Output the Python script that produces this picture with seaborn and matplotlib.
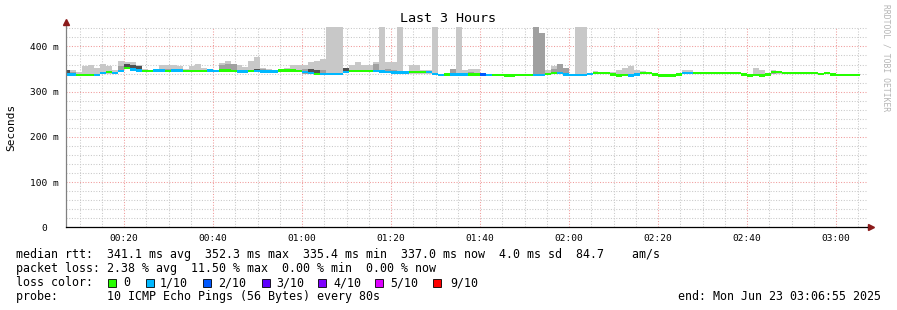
import numpy as np
import matplotlib
matplotlib.use("Agg")
import matplotlib.pyplot as plt
import seaborn as sns
from matplotlib.patches import Rectangle
from matplotlib.lines import Line2D

sns.set_theme(style="white")
plt.rcParams['font.family'] = ['DejaVu Sans Mono', 'DejaVu Sans']

# ---------------- data ----------------
start_min = 6.61          # first 80 s step, minutes after 00:00
step_min = 80 / 60
view_start, view_end = 6.917, 186.917   # 00:06:55 .. 03:06:55

median_ms = [338, 338, 337, 337, 337, 337, 341, 343, 341, 346,
             352.3, 349, 347, 346, 346, 347, 347, 346, 347, 347,
             346, 346, 346, 346, 347, 346, 347, 347, 346, 345,
             345, 346, 346, 345, 345, 345, 347, 347, 347, 346,
             343, 341, 339, 339, 339, 339, 339, 344, 346, 346,
             346, 346, 346, 345, 344, 342, 342, 342, 343, 343,
             343, 343, 339, 337, 337.5, 337.5, 337.5, 337.5, 338, 338,
             337.5, 337, 337, 337, 335.6, 335.6, 337, 337, 337, 337,
             337, 339, 341, 341, 337.5, 337, 337, 337, 339, 341,
             341, 341, 337.5, 335.6, 337, 335.6, 338, 341, 341, 337.5,
             336, 335.6, 335.6, 338, 341, 341, 341, 341, 341, 341,
             341, 341, 341, 341, 337.5, 335.4, 337, 335.6, 337.5, 343,
             343, 341, 341, 341, 341, 341, 341, 339, 341, 337.5,
             337, 337, 337, 337]

loss_tenths = [1, 1, 0, 0, 0, 1, 1, 0, 1, 1,
               0, 1, 1, 0, 0, 1, 1, 0, 1, 1,
               0, 0, 0, 0, 1, 1, 0, 0, 0, 1,
               1, 0, 1, 1, 1, 1, 0, 0, 0, 0,
               1, 1, 0, 1, 1, 1, 1, 1, 0, 0,
               0, 0, 1, 1, 1, 1, 1, 1, 0, 0,
               0, 1, 1, 1, 0, 1, 1, 1, 0, 0,
               2, 1, 0, 0, 0, 0, 0, 0, 0, 1,
               1, 0, 0, 1, 1, 1, 1, 1, 1, 0,
               0, 0, 0, 0, 0, 1, 1, 0, 0, 0,
               0, 0, 0, 0, 1, 1, 0, 0, 0, 0,
               0, 0, 0, 0, 0, 0, 0, 0, 0, 0,
               0, 0, 0, 0, 0, 0, 0, 0, 0, 0,
               0, 0, 0, 0]

smoke_max_ms = [347, 347, 343, 357, 360, 352, 361, 357, 347, 367,
                366, 366, 360, 351, 347, 347, 360, 360, 360, 357,
                350, 357, 362, 352, 350, 346, 363, 367, 360, 360,
                354, 367, 376, 352, 350, 345, 350, 352, 360, 360,
                360, 366, 367, 372, 450, 450, 450, 352, 358, 365,
                360, 358, 366, 450, 366, 366, 450, 344, 358, 358,
                347, 347, 450, 338, 338, 351, 450, 349, 351, 351,
                340, 338, 340, 337, 336, 336, 340, 337, 337, 450,
                429, 347, 357, 362, 352, 338, 450, 450, 340, 345,
                341, 341, 344, 348, 353, 357, 348, 345, 341, 338,
                338, 336, 336, 338, 347, 347, 341, 341, 341, 341,
                341, 341, 341, 341, 337.5, 335.4, 352, 349, 338, 349,
                346, 341, 341, 341, 341, 341, 341, 339, 341, 337.5,
                337, 337, 337, 337]

smoke_mid_idx = [1, 9, 17, 18, 19, 26, 27, 28, 33, 40, 43, 52, 54, 55,
                 65, 68, 79, 80, 82, 83, 84, 119]
smoke_mid_ms = [344, 357, 351, 350, 350, 358, 362, 362, 350, 351, 347, 362,
                351, 347, 351, 344, 450, 429, 351, 362, 352, 346]
smoke_dark_idx = [0, 10, 11, 12, 32, 41, 42, 47]
smoke_dark_ms = [347, 362, 360, 356, 351, 350, 347, 352]

loss_colors = {0: '#26ff00', 1: '#00b8ff', 2: '#0059ff', 3: '#5e00ff',
               4: '#7e00ff', 5: '#dd00ff', 9: '#ff0000'}
legend_loss = ['0', '1/10', '2/10', '3/10', '4/10', '5/10', '9/10']
legend_loss_keys = [0, 1, 2, 3, 4, 5, 9]

x_major = [20, 40, 60, 80, 100, 120, 140, 160, 180]
x_labels = ['00:20', '00:40', '01:00', '01:20', '01:40', '02:00', '02:20', '02:40', '03:00']
y_major = [0, 100, 200, 300, 400]
y_labels = ['0  ', '100 m', '200 m', '300 m', '400 m']

# ---------------- figure ----------------
W, H = 897, 310
fig = plt.figure(figsize=(W / 100, H / 100), dpi=100)
fig.patch.set_facecolor('white')
L, R, T, B = 65.8, 866.8, 27.0, 227.3
ax = fig.add_axes([L / W, 1 - B / H, (R - L) / W, (B - T) / H])
ax.set_facecolor('white')

n = len(median_ms)
starts = start_min + step_min * np.arange(n)
med = np.array(median_ms, dtype=float)
smax = np.array(smoke_max_ms, dtype=float)

# smoke layers
ax.bar(starts, smax - (med - 3), bottom=med - 3, width=step_min, align='edge',
       color='#c8c8c8', linewidth=0, zorder=2)
mi = np.array(smoke_mid_idx)
ax.bar(starts[mi], np.array(smoke_mid_ms) - (med[mi] - 3), bottom=med[mi] - 3,
       width=step_min, align='edge', color='#a0a0a0', linewidth=0, zorder=3)
di = np.array(smoke_dark_idx)
ax.bar(starts[di], np.array(smoke_dark_ms) - (med[di] - 3), bottom=med[di] - 3,
       width=step_min, align='edge', color='#505050', linewidth=0, zorder=4)

# median coloured by loss
cols = [loss_colors[l] for l in loss_tenths]
ax.bar(starts, 5.5, bottom=med - 2.75, width=step_min, align='edge',
       color=cols, linewidth=0, zorder=5)

ax.set_xlim(view_start, view_end)
ax.set_ylim(0, 443)

ax.set_xticks(x_major)
ax.set_xticklabels(x_labels)
ax.set_xticks([m for m in range(10, 187, 5) if m % 20 != 0], minor=True)
ax.set_yticks(y_major)
ax.set_yticklabels(y_labels)
ax.set_yticks([v for v in range(20, 441, 20) if v % 100 != 0], minor=True)
ax.tick_params(axis='both', which='both', length=0, labelsize=6.8, colors='black')
ax.tick_params(axis='x', pad=4.5)
ax.tick_params(axis='y', pad=5)

ax.set_axisbelow(True)
ax.grid(which='minor', color='#c8c8c8', linestyle=(0, (1, 1.6)), linewidth=0.75)
ax.grid(which='major', color='#f09a9a', linestyle=(0, (1, 1.6)), linewidth=0.75)

for s in ['top', 'right']:
    ax.spines[s].set_visible(False)
ax.spines['left'].set_color('#808080')
ax.spines['left'].set_linewidth(0.9)
ax.spines['bottom'].set_color('black')
ax.spines['bottom'].set_linewidth(0.9)
ax.spines['left'].set_zorder(6)
ax.spines['bottom'].set_zorder(6)

# axis arrows
ax.plot([0, 0], [1, 1.02], transform=ax.transAxes, color='#808080', lw=0.9, clip_on=False)
ax.plot([1, 1.004], [0, 0], transform=ax.transAxes, color='black', lw=0.9, clip_on=False)
ax.plot([0], [1.024], marker='^', markersize=4.5, color='#8b1a1a', transform=ax.transAxes, clip_on=False)
ax.plot([1.0055], [0], marker='>', markersize=4.5, color='#8b1a1a', transform=ax.transAxes, clip_on=False)

# texts
def fx(x):
    return x / W

def fy(y):
    return 1 - y / H

fig.text(fx(448), fy(19), 'Last 3 Hours', ha='center', va='center', fontsize=9.6, color='black')
fig.text(fx(11), fy(127), 'Seconds', ha='center', va='center', rotation=90, fontsize=8, color='black')
fig.text(fx(886), fy(4), 'RRDTOOL / TOBI OETIKER', ha='center', va='top', rotation=-90,
         fontsize=5.8, color='#b4b4b4')

lf = 8.4
fig.text(fx(16), fy(258.3), 'median rtt:  341.1 ms avg  352.3 ms max  335.4 ms min  337.0 ms now  4.0 ms sd  84.7    am/s',
         ha='left', va='baseline', fontsize=lf, color='black')
fig.text(fx(16), fy(272), 'packet loss: 2.38 % avg  11.50 % max  0.00 % min  0.00 % now',
         ha='left', va='baseline', fontsize=lf, color='black')
fig.text(fx(16), fy(286), 'loss color:', ha='left', va='baseline', fontsize=lf, color='black')
sw_x = [108, 146, 203, 262, 318, 375, 433]
lab_x = [123, 160, 218, 276, 333, 390, 450]
for k, lab, sx, lx in zip(legend_loss_keys, legend_loss, sw_x, lab_x):
    fig.add_artist(Rectangle((fx(sx), fy(287)), 8 / W, 8 / H, transform=fig.transFigure,
                             facecolor=loss_colors[k], edgecolor='black', linewidth=0.6))
    fig.text(fx(lx), fy(286), lab, ha='left', va='baseline', fontsize=lf, color='black')
fig.text(fx(16), fy(300), 'probe:       10 ICMP Echo Pings (56 Bytes) every 80s',
         ha='left', va='baseline', fontsize=lf, color='black')
fig.text(fx(881), fy(300), 'end: Mon Jun 23 03:06:55 2025',
         ha='right', va='baseline', fontsize=lf, color='black')

fig.savefig('out.png', dpi=100, facecolor='white')
